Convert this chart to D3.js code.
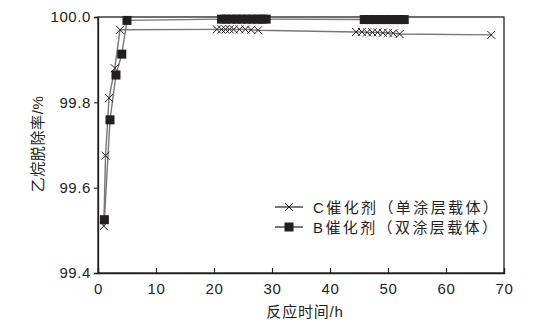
<!DOCTYPE html>
<html><head><meta charset="utf-8">
<script src="https://cdn.jsdelivr.net/npm/d3@7/dist/d3.min.js"></script>
<style>body{margin:0;background:#fff}svg{display:block}text{font-family:"Liberation Sans",Arial,"Noto Sans CJK SC",sans-serif;fill:#231f20}</style>
</head><body><div id="c"></div>
<script>
const xTicks=[0,10,20,30,40,50,60,70];
const yTicks=[99.4,99.6,99.8,100.0];
const cHours=[1.0,1.3,1.9,2.9,3.8,20.5,21.3,22.0,22.7,23.4,24.4,25.4,26.4,27.6,44.5,45.5,46.4,47.3,48.2,49.1,50.0,50.9,52.0,67.8];
const cValues=[99.51,99.675,99.81,99.88,99.97,99.971,99.971,99.971,99.971,99.971,99.971,99.971,99.970,99.969,99.965,99.965,99.964,99.964,99.964,99.963,99.963,99.962,99.960,99.958];
const bHours=[1.1,2.07,3.1,4.1,5.0,21.3,22.1,23.0,23.9,24.8,25.7,26.6,27.5,28.3,29.0,45.9,46.8,47.7,48.6,49.5,50.4,51.3,52.1,52.8];
const bValues=[99.525,99.759,99.864,99.913,99.992,99.995,99.995,99.995,99.995,99.995,99.995,99.995,99.995,99.995,99.995,99.994,99.994,99.994,99.994,99.994,99.994,99.994,99.994,99.994];
const legendLabels=["C催化剂（单涂层载体）","B催化剂（双涂层载体）"];

const W=548,H=328,m={l:98,r:44,t:17,b:55};
const svg=d3.select("#c").append("svg").attr("width",W).attr("height",H);
const x=d3.scaleLinear().domain([0,70]).range([m.l,W-m.r]);
const y=d3.scaleLinear().domain([99.4,100.0]).range([H-m.b,m.t]);
const ink="#231f20";

// frame
svg.append("rect").attr("x",x(0)).attr("y",y(100)).attr("width",x(70)-x(0)).attr("height",y(99.4)-y(100))
  .attr("fill","none").attr("stroke",ink).attr("stroke-width",1.3);

const xa=svg.append("g").attr("transform",`translate(0,${y(99.4)})`)
  .call(d3.axisBottom(x).tickValues(xTicks).tickSize(-5).tickPadding(10).tickFormat(d3.format("d")));
const ya=svg.append("g").attr("transform",`translate(${x(0)},0)`)
  .call(d3.axisLeft(y).tickValues(yTicks).tickSize(4).tickPadding(3).tickFormat(d3.format(".1f")));
[xa,ya].forEach(a=>{a.select(".domain").attr("stroke",ink).attr("stroke-width",1.3);
  a.selectAll(".tick line").attr("stroke",ink).attr("stroke-width",1.1);
  a.selectAll("text").attr("font-size",15).attr("letter-spacing",0.6).style("fill",ink);});

const line=d3.line().x(d=>x(d[0])).y(d=>y(d[1]));
const cData=cHours.map((h,i)=>[h,cValues[i]]);
const bData=bHours.map((h,i)=>[h,bValues[i]]);
svg.append("path").datum(cData).attr("d",line).attr("fill","none").attr("stroke","#777").attr("stroke-width",1.4);
svg.append("path").datum(bData).attr("d",line).attr("fill","none").attr("stroke","#777").attr("stroke-width",1.4);

const cs=4;
function cross(g,cx,cy){g.append("path").attr("d",`M${cx-cs},${cy-cs}L${cx+cs},${cy+cs}M${cx-cs},${cy+cs}L${cx+cs},${cy-cs}`)
  .attr("stroke",ink).attr("stroke-width",1).attr("fill","none");}
const gc=svg.append("g");
cData.forEach(d=>cross(gc,x(d[0]),y(d[1])));
svg.append("g").selectAll("rect").data(bData).join("rect")
  .attr("x",d=>x(d[0])-4.5).attr("y",d=>y(d[1])-4.5).attr("width",9).attr("height",9).attr("fill",ink);

// legend
const lg=svg.append("g");
[0,1].forEach(i=>{
  const ly=207+i*20;
  lg.append("line").attr("x1",275).attr("x2",303).attr("y1",ly).attr("y2",ly).attr("stroke",ink).attr("stroke-width",1.2);
  if(i===0) cross(lg,289,ly); else lg.append("rect").attr("x",284.5).attr("y",ly-4.5).attr("width",9).attr("height",9).attr("fill",ink);
  lg.append("text").attr("x",313).attr("y",ly+5.5).attr("font-size",15).attr("letter-spacing",2.4).text(legendLabels[i]);
});

svg.append("text").attr("x",(x(0)+x(70))/2+4).attr("y",317).attr("text-anchor","middle").attr("font-size",15).attr("letter-spacing",0.8).text("反应时间/h");
svg.append("text").attr("transform","translate(43,144) rotate(-90)").attr("text-anchor","middle").attr("font-size",15).attr("letter-spacing",0.6).text("乙烷脱除率/%");
</script></body></html>
